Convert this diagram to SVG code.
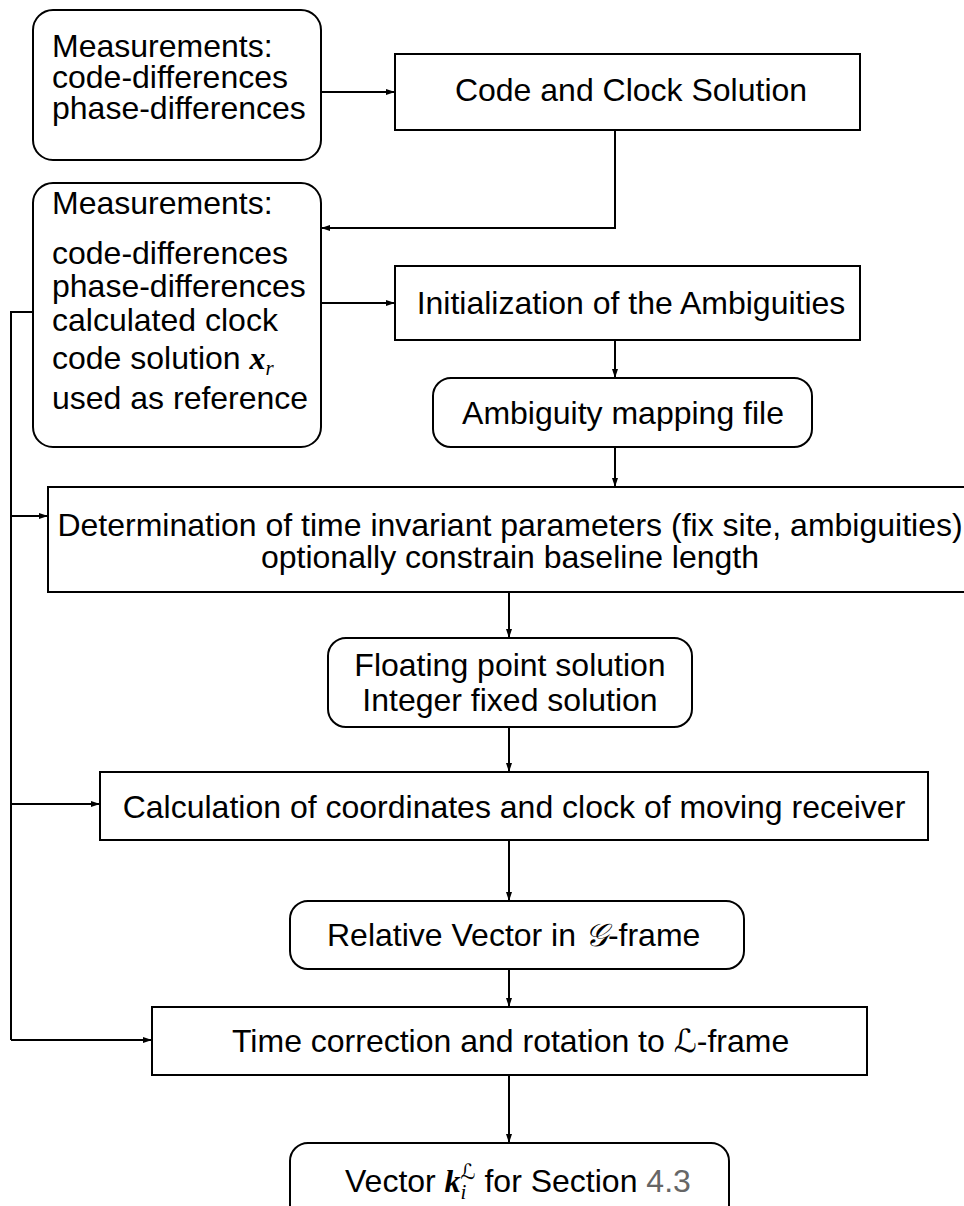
<svg xmlns="http://www.w3.org/2000/svg" width="964" height="1206" viewBox="0 0 964 1206">
<defs>
<marker id="ah" markerWidth="9" markerHeight="6" refX="9" refY="3" orient="auto" markerUnits="userSpaceOnUse">
<path d="M0,0 L9,3 L0,6 z" fill="#000"/>
</marker>
<style>
.box{fill:#fff;stroke:#000;stroke-width:2}
.t{font-family:"Liberation Sans",Arial,sans-serif;font-size:32px;fill:#000}
.m{font-family:"Liberation Serif","DejaVu Serif",serif;font-style:italic;font-weight:bold}
.ms{font-family:"Liberation Serif","DejaVu Serif",serif;font-style:italic;font-size:21px}
.cal{font-family:"DejaVu Serif","DejaVu Sans",serif;font-style:italic}
.c{fill:none;stroke:#000;stroke-width:2}
.ca{fill:none;stroke:#000;stroke-width:2;marker-end:url(#ah)}
</style>
</defs>
<rect width="964" height="1206" fill="#fff"/>

<g id="connectors">
<path class="ca" d="M321,92 H395"/>
<path class="ca" d="M615,130 V228 H321"/>
<path class="ca" d="M321,303 H395"/>
<path class="ca" d="M615,340 V378"/>
<path class="ca" d="M615,447 V487"/>
<path class="ca" d="M509,592 V638"/>
<path class="ca" d="M509,727 V772"/>
<path class="ca" d="M509,840 V901"/>
<path class="ca" d="M509,969 V1007"/>
<path class="ca" d="M509,1075 V1143"/>
<path class="c" d="M33,312 H11 V1040"/>
<path class="ca" d="M11,516 H48"/>
<path class="ca" d="M11,804 H100"/>
<path class="ca" d="M11,1040 H152"/>
</g>

<g id="meas1">
<rect class="box" x="33" y="10" width="288" height="150" rx="20"/>
<text class="t" x="52" y="57">Measurements:</text>
<text class="t" x="52" y="88">code-differences</text>
<text class="t" x="52" y="119">phase-differences</text>
</g>

<g id="codeclock">
<rect class="box" x="395" y="54" width="465" height="76"/>
<text class="t" x="631" y="101" text-anchor="middle">Code and Clock Solution</text>
</g>

<g id="meas2">
<rect class="box" x="33" y="183" width="288" height="264" rx="20"/>
<text class="t" x="52" y="214">Measurements:</text>
<text class="t" x="52" y="264">code-differences</text>
<text class="t" x="52" y="297">phase-differences</text>
<text class="t" x="52" y="331">calculated clock</text>
<text class="t" x="52" y="369">code solution <tspan class="m">x</tspan><tspan class="ms" dy="6">r</tspan></text>
<text class="t" x="52" y="409">used as reference</text>
</g>

<g id="init">
<rect class="box" x="395" y="266" width="465" height="74"/>
<text class="t" x="631" y="314" text-anchor="middle">Initialization of the Ambiguities</text>
</g>

<g id="ambmap">
<rect class="box" x="433" y="378" width="379" height="69" rx="18"/>
<text class="t" x="623" y="424" text-anchor="middle">Ambiguity mapping file</text>
</g>

<g id="determination">
<rect class="box" x="48" y="487" width="924" height="105"/>
<text class="t" x="510" y="536" text-anchor="middle">Determination of time invariant parameters (fix site, ambiguities)</text>
<text class="t" x="510" y="568" text-anchor="middle">optionally constrain baseline length</text>
</g>

<g id="floating">
<rect class="box" x="328" y="638" width="364" height="89" rx="18"/>
<text class="t" x="510" y="676" text-anchor="middle">Floating point solution</text>
<text class="t" x="510" y="711" text-anchor="middle">Integer fixed solution</text>
</g>

<g id="calculation">
<rect class="box" x="100" y="772" width="828" height="68"/>
<text class="t" x="514" y="818" text-anchor="middle">Calculation of coordinates and clock of moving receiver</text>
</g>

<g id="relative">
<rect class="box" x="290" y="901" width="454" height="68" rx="18"/>
<text class="t" x="327" y="946">Relative Vector in <tspan class="cal">𝒢</tspan>-frame</text>
</g>

<g id="timecorr">
<rect class="box" x="152" y="1007" width="715" height="68"/>
<text class="t" x="232" y="1052">Time correction and rotation to <tspan class="cal">ℒ</tspan>-frame</text>
</g>

<g id="vector">
<rect class="box" x="290" y="1143" width="439" height="90" rx="18"/>
<text class="t" x="345" y="1192">Vector <tspan class="m">k</tspan><tspan class="ms" dy="7">i</tspan><tspan class="ms cal" dx="-6" dy="-20" font-size="19">ℒ</tspan><tspan dy="13"> for Section </tspan><tspan fill="#666">4.3</tspan></text>
</g>
</svg>
